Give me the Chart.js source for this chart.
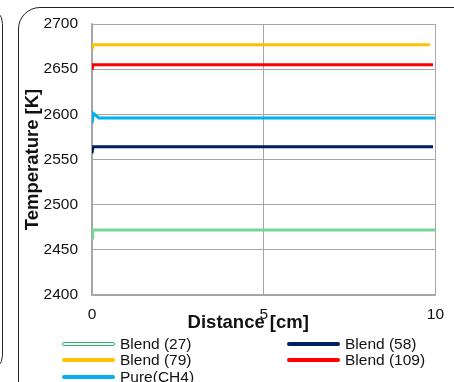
<!DOCTYPE html>
<html>
<head>
<meta charset="utf-8">
<script src="https://cdn.jsdelivr.net/npm/chart.js@4/dist/chart.umd.min.js"></script>
<style>
  body { margin: 0; background: #fff; overflow: hidden; }
  #wrap { position: relative; width: 454px; height: 382px; overflow: hidden; font-family: "Liberation Sans", Arial, sans-serif; }
  #frame { position: absolute; left: 18px; top: 7px; width: 460px; height: 400px; border: 1px solid #222; border-radius: 22px; box-sizing: border-box; }
  #frameLeft { position: absolute; left: -30px; top: 7px; width: 33px; height: 365px; border: 1px solid #222; border-radius: 18px; box-sizing: border-box; }
  canvas { position: absolute; left: 0; top: 0; }
  .leg { position: absolute; font-size: 15.5px; color: #111; line-height: 16px; white-space: nowrap; }
  .leg .sw { position: absolute; left: 0; width: 53px; height: 4px; top: 6px; box-sizing: border-box; border-radius: 2px; }
  .leg .tx { position: absolute; left: 58px; top: 0; }
</style>
</head>
<body>
<div id="wrap">
  <div id="frameLeft"></div>
  <div id="frame"></div>
  <canvas id="temp-chart" width="454" height="382"></canvas>
  <div id="legend"></div>
</div>
<script>
// distance [cm] and temperature [K] for each case
var dist27 = [0, 0.02, 10];
var temp27 = [2463, 2472, 2472];
var dist58 = [0, 0.03, 9.93];
var temp58 = [2557, 2564, 2564];
var dist79 = [0, 0.03, 9.84];
var temp79 = [2672, 2677, 2677];
var dist109 = [0, 0.03, 9.93];
var temp109 = [2649, 2655, 2655];
var distCH4 = [0, 0.04, 0.2, 10];
var tempCH4 = [2590, 2601, 2596, 2596];

var names = ['Blend (27)', 'Blend (58)', 'Blend (79)', 'Blend (109)', 'Pure(CH4)'];
var colors = ['#74d69a', '#002060', '#ffc000', '#ff0000', '#00b0f0'];

function toPoints(xs, ys) {
    return xs.map(function (x, i) { return {x: x, y: ys[i]}; });
}

var series = [
    toPoints(dist27, temp27),
    toPoints(dist58, temp58),
    toPoints(dist79, temp79),
    toPoints(dist109, temp109),
    toPoints(distCH4, tempCH4)
];

const ctx = document.getElementById('temp-chart');

var tempChart = new Chart(ctx, {
    type: 'line',
    data: {
        datasets: series.map(function (pts, i) {
            return {
                label: names[i],
                data: pts,
                borderColor: colors[i],
                borderWidth: 3,
                pointRadius: 0,
                tension: 0,
                fill: false
            };
        })
    },
    options: {
        responsive: false,
        animation: false,
        layout: {
            padding: {left: 18, right: 12, top: 24, bottom: 0}
        },
        plugins: {
            legend: { display: false },
            tooltip: { enabled: false }
        },
        scales: {
            x: {
                type: 'linear',
                min: 0,
                max: 10,
                afterFit: function (scale) { scale.height = 87; },
                grid: { color: '#a6a6a6', lineWidth: 1, drawTicks: false },
                border: { color: '#a6a6a6', width: 1.5 },
                ticks: {
                    stepSize: 5,
                    padding: 10,
                    color: '#111',
                    font: { family: 'Liberation Sans', size: 15.5 },
                    callback: function (v) { return String(v); }
                },
                title: {
                    display: true,
                    // trailing spaces nudge the title left like the original
                    text: 'Distance [cm]\u00a0\u00a0\u00a0\u00a0\u00a0\u00a0',
                    color: '#111',
                    padding: {top: 0, bottom: 48},
                    font: { family: 'Liberation Sans', size: 18.5, weight: 'bold' }
                }
            },
            y: {
                min: 2400,
                max: 2700,
                afterFit: function (scale) { scale.width = 74; },
                grid: { color: '#a6a6a6', lineWidth: 1, drawTicks: false },
                border: { color: '#a6a6a6', width: 1.5 },
                ticks: {
                    stepSize: 50,
                    padding: 14,
                    color: '#111',
                    font: { family: 'Liberation Sans', size: 15.5 },
                    callback: function (v) { return String(v); }
                },
                title: {
                    display: true,
                    text: 'Temperature [K]',
                    color: '#111',
                    padding: {top: 4, bottom: 0},
                    font: { family: 'Liberation Sans', size: 18.5, weight: 'bold' }
                }
            }
        }
    }
});

// legend in two columns, built from the chart's own legend items
var slots = [[62, 336], [287, 336], [62, 352], [287, 352], [62, 369]];
var legendBox = document.getElementById('legend');
tempChart.options.plugins.legend.labels.generateLabels(tempChart).forEach(function (item, i) {
    var el = document.createElement('div');
    el.className = 'leg';
    el.style.left = slots[i][0] + 'px';
    el.style.top = slots[i][1] + 'px';
    var sw = document.createElement('span');
    sw.className = 'sw';
    if (i === 0) {
        sw.style.border = '1.5px solid #2eb86a';
        sw.style.background = '#fff';
    } else {
        sw.style.background = item.strokeStyle;
    }
    var tx = document.createElement('span');
    tx.className = 'tx';
    tx.textContent = item.text;
    el.appendChild(sw);
    el.appendChild(tx);
    legendBox.appendChild(el);
});
</script>
</body>
</html>
